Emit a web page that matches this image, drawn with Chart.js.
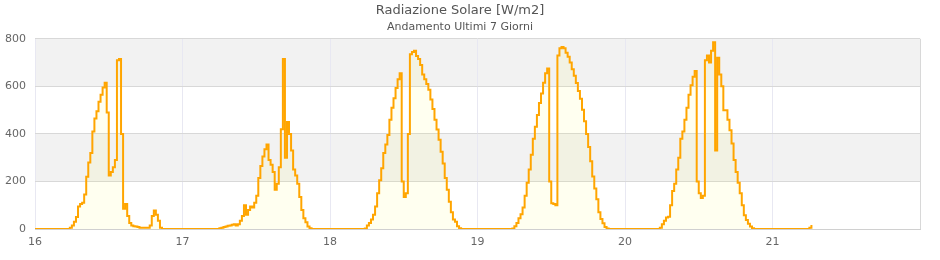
<!DOCTYPE html>
<html lang="it">
<head>
<meta charset="UTF-8">
<script src="https://cdn.jsdelivr.net/npm/chart.js"></script>
<title>Radiazione Solare</title>
<style>
    body { margin: 0; background: #fff; }
</style>
</head>
<body>
<canvas id="solarChart" width="940" height="260"></canvas>

<script>
        // Axis range (days of the month)
        const firstDay = 16;
        const lastDay = 22;
        const yTicks = [0, 200, 400, 600, 800];
        const bandRanges = [[200, 400], [600, 800]];

        // Readings in W/m2, one every 20 minutes from the start time
        const stepMinutes = 20;
        const day16Start = '05:40';
        const day16 = [5, 15, 30, 50, 95, 105, 110, 145, 220, 280, 320, 410, 465, 495, 535, 565, 595, 615, 490, 225,
                       240, 260, 290, 710, 715, 400, 85, 105, 55, 25, 15, 12, 10, 8, 5, 5, 5, 5, 5, 15,
                       55, 78, 60, 35, 5, 0];
        const day17Start = '06:00';
        const day17 = [3, 5, 8, 10, 14, 15, 18, 20, 15, 20, 35, 55, 100, 60, 80, 95, 90, 110, 140, 215,
                       265, 305, 335, 355, 290, 270, 240, 165, 190, 260, 420, 715, 300, 450, 400, 330, 250, 225, 190, 135,
                       80, 45, 28, 10, 3, 0];
        const day18Start = '05:40';
        const day18 = [2, 15, 25, 40, 60, 95, 150, 205, 255, 320, 355, 395, 460, 510, 550, 593, 630, 655, 200, 135,
                       150, 400, 735, 745, 750, 728, 715, 690, 650, 630, 610, 586, 545, 505, 460, 418, 375, 325, 275, 214,
                       165, 115, 70, 40, 30, 12, 3, 0];
        const day19Start = '05:40';
        const day19 = [2, 12, 25, 45, 62, 90, 140, 195, 250, 312, 380, 430, 480, 530, 570, 615, 655, 675, 200, 108,
                       105, 100, 730, 760, 765, 760, 741, 725, 700, 672, 645, 614, 580, 548, 502, 453, 400, 345, 285, 221,
                       170, 125, 70, 42, 24, 8, 2, 0];
        const day20Start = '05:40';
        const day20 = [5, 20, 35, 48, 52, 100, 160, 190, 250, 300, 380, 410, 460, 510, 565, 605, 640, 665, 200, 150,
                       130, 140, 710, 730, 700, 750, 785, 330, 720, 650, 600, 500, 500, 460, 415, 360, 290, 240, 195, 150,
                       100, 58, 38, 22, 10, 3, 0];
        const day21Start = '06:00';
        const day21 = [5, 17];

        function toPoints(day, start, values) {
            const [h, m] = start.split(':').map(Number);
            return values.map((v, i) => ({ x: day + (h * 60 + m + i * stepMinutes) / 1440, y: v }));
        }

        const points = [{ x: firstDay, y: 0 }].concat(
            toPoints(16, day16Start, day16),
            toPoints(17, day17Start, day17),
            toPoints(18, day18Start, day18),
            toPoints(19, day19Start, day19),
            toPoints(20, day20Start, day20),
            toPoints(21, day21Start, day21)
        );

        // Alternating grey bands behind the plot
        const plotBands = {
            id: 'plotBands',
            beforeDraw(chart) {
                const { ctx, chartArea, scales: { y } } = chart;
                ctx.save();
                ctx.fillStyle = '#f2f2f2';
                bandRanges.forEach(([from, to]) => {
                    const top = y.getPixelForValue(to);
                    const bottom = y.getPixelForValue(from);
                    ctx.fillRect(chartArea.left, top, chartArea.right - chartArea.left, bottom - top);
                });
                ctx.restore();
            }
        };

        Chart.defaults.font.family = 'DejaVu Sans';

        const ctx = document.getElementById('solarChart').getContext('2d');
        new Chart(ctx, {
            type: 'line',
            data: {
                datasets: [{
                    label: 'Radiazione Solare',
                    data: points,
                    borderColor: '#FFA500',
                    borderWidth: 2,
                    backgroundColor: 'rgba(255, 255, 0, 0.06)',
                    fill: 'origin',
                    stepped: true,
                    pointRadius: 0
                }]
            },
            options: {
                responsive: false,
                animation: false,
                layout: { padding: { left: 0, right: 20, top: 0, bottom: 0 } },
                scales: {
                    x: {
                        type: 'linear',
                        min: firstDay,
                        max: lastDay,
                        afterFit: s => { s.height = 31; },
                        ticks: {
                            stepSize: 1,
                            autoSkip: false,
                            maxRotation: 0,
                            padding: 7,
                            color: '#666',
                            font: { size: 11 },
                            callback: v => (v === lastDay ? '' : v)
                        },
                        grid: {
                            drawTicks: false,
                            color: c => (c.tick && c.tick.value === lastDay ? '#d8d8d8' : '#e8e8f2')
                        },
                        border: { color: '#d0d0d0' }
                    },
                    y: {
                        min: yTicks[0],
                        max: yTicks[yTicks.length - 1],
                        afterFit: s => { s.width = 35; },
                        ticks: {
                            stepSize: 200,
                            padding: 9,
                            color: '#666',
                            font: { size: 11 }
                        },
                        grid: { drawTicks: false, color: '#d8d8d8' },
                        border: { display: false }
                    }
                },
                plugins: {
                    legend: { display: false },
                    tooltip: { enabled: false },
                    title: {
                        display: true,
                        text: 'Radiazione Solare [W/m2]',
                        color: '#555',
                        font: { size: 13, weight: 'normal' },
                        padding: { top: 3, bottom: 0 }
                    },
                    subtitle: {
                        display: true,
                        text: 'Andamento Ultimi 7 Giorni',
                        color: '#555',
                        font: { size: 11 },
                        padding: { top: 2, bottom: 5 }
                    }
                }
            },
            plugins: [plotBands]
        });
</script>
</body>
</html>
